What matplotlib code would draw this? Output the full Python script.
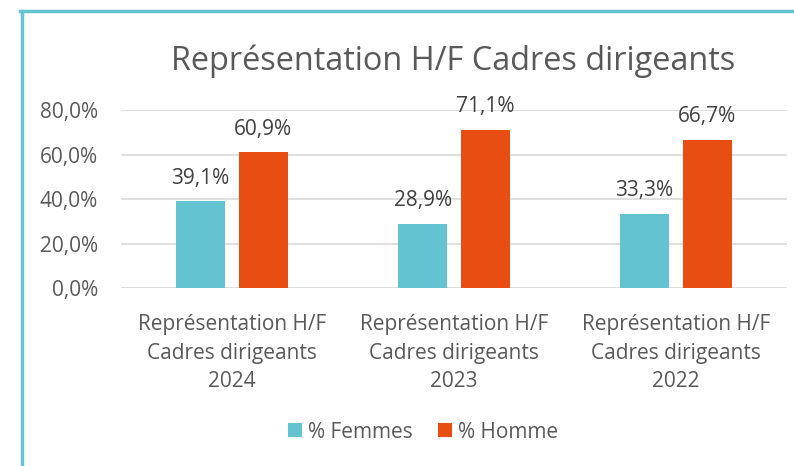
import matplotlib
matplotlib.use("Agg")
import matplotlib.pyplot as plt
from matplotlib.lines import Line2D
import numpy as np

categories = ["Représentation H/F\nCadres dirigeants\n2024",
              "Représentation H/F\nCadres dirigeants\n2023",
              "Représentation H/F\nCadres dirigeants\n2022"]
femmes = [39.1, 28.9, 33.3]
hommes = [60.9, 71.1, 66.7]
series_names = ["% Femmes", "% Homme"]
yticks = [0, 20, 40, 60, 80]

teal = "#63C3D0"
orange = "#E84E12"
grid_c = "#D9D9D9"
txt = "#595959"
lbl = "#404040"

plt.rcParams['font.family'] = ['Open Sans', 'DejaVu Sans']

W, H = 794, 466
fig = plt.figure(figsize=(W/100, H/100), dpi=100)
ax = fig.add_axes([121/W, 1-288/H, (787-121)/W, (288-110)/H])

x = np.arange(len(categories))
bw = 0.22
off = 0.1415
b1 = ax.bar(x - off, femmes, bw, color=teal, label=series_names[0], zorder=3)
b2 = ax.bar(x + off, hommes, bw, color=orange, label=series_names[1], zorder=3)

for bars, vals in ((b1, femmes), (b2, hommes)):
    for r, v in zip(bars, vals):
        ax.annotate(f"{v:.1f}%".replace(".", ","),
                    (r.get_x() + r.get_width()/2, r.get_height()),
                    xytext=(0, 16.5), textcoords="offset points",
                    ha="center", va="center", fontsize=15, color=lbl)

ax.set_xlim(-0.5, 2.5)
ax.set_ylim(0, 80)
ax.set_yticks(yticks)
ax.set_yticklabels([f"{v:.1f}%".replace(".", ",") for v in yticks], fontsize=15, color=txt)
ax.set_xticks(x)
ax.set_xticklabels(categories, fontsize=15, color=txt, linespacing=1.45)
ax.tick_params(length=0)
ax.tick_params(axis='y', pad=16.5)
ax.tick_params(axis='x', pad=19)
ax.yaxis.grid(True, color=grid_c, linewidth=1.2, zorder=0)
for s in ax.spines.values():
    s.set_visible(False)

fig.text(453/W, 1-70/H, "Représentation H/F Cadres dirigeants", ha="center", va="baseline",
         fontsize=23.4, color=txt)

leg = fig.legend(handles=[b1, b2], labels=series_names, loc="center",
                 bbox_to_anchor=(423/W, 1-432/H), ncol=2, frameon=False,
                 fontsize=15, handlelength=0.67, handleheight=0.67,
                 columnspacing=1.2, handletextpad=0.29)
for t in leg.get_texts():
    t.set_color(txt)

# frame lines (top and left)
fig.add_artist(Line2D([20/W, 1], [1-11/H, 1-11/H], color=teal, linewidth=2.5,
                      transform=fig.transFigure))
fig.add_artist(Line2D([21.5/W, 21.5/W], [0, 1-11/H], color=teal, linewidth=2.5,
                      transform=fig.transFigure))

fig.savefig("out.png", dpi=100)
